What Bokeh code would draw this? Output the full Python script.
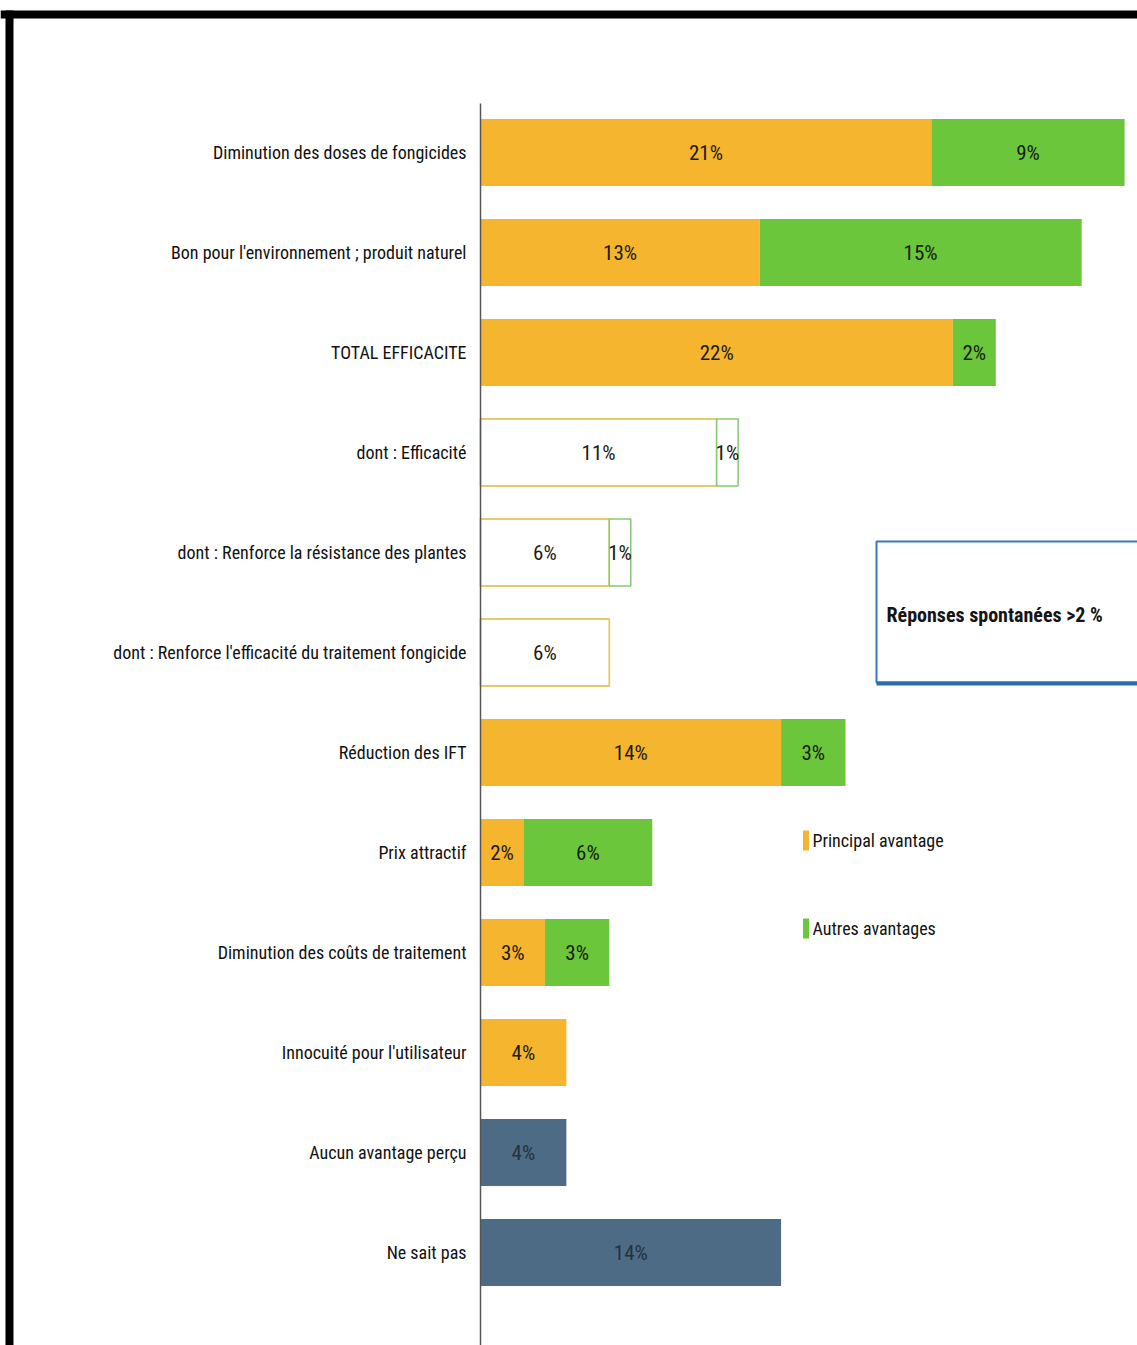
from bokeh.plotting import figure
from bokeh.models import Range1d
from bokeh.core.properties import value
from bokeh.embed import file_html
from bokeh.resources import INLINE

# ---------------- data ----------------
categories = [
    "Diminution des doses de fongicides",
    "Bon pour l'environnement ; produit naturel",
    "TOTAL EFFICACITE",
    "dont : Efficacité",
    "dont : Renforce la résistance des plantes",
    "dont : Renforce l'efficacité du traitement fongicide",
    "Réduction des IFT",
    "Prix attractif",
    "Diminution des coûts de traitement",
    "Innocuité pour l'utilisateur",
    "Aucun avantage perçu",
    "Ne sait pas",
]
principal = [21, 13, 22, 11, 6, 6, 14, 2, 3, 4, 0, 0]
autres = [9, 15, 2, 1, 1, 0, 3, 6, 3, 0, 0, 0]
sans_avantage = [0, 0, 0, 0, 0, 0, 0, 0, 0, 0, 4, 14]
is_detail = [False, False, False, True, True, True, False, False, False, False, False, False]
legend_labels = ["Principal avantage", "Autres avantages"]
box_title = "Réponses spontanées >2 %"

# ---------------- styles / layout ----------------
ORANGE = "#F5B52E"
GREEN = "#6CC63C"
SLATE = "#4E6B86"
ORANGE_LINE = "#E6CB6A"
GREEN_LINE = "#88C878"
BLUE_BOX = "#3A78BE"
FONT = value("Roboto Condensed")

FIG_W, FIG_H = 1137, 1345
X0_PX = 480.0          # pixel of x = 0 (axis line)
PX_PER_PCT = 21.47
ROW0_PX = 152.0        # pixel centre of first row
ROW_PX = 100.0
BAR_H = 0.67

def dx(px):
    return (px - X0_PX) / PX_PER_PCT

def dy(px):
    return (px - ROW0_PX) / ROW_PX

x_start, x_end = dx(0), dx(FIG_W)
y_top, y_bottom = dy(0), dy(FIG_H)

p = figure(width=FIG_W, height=FIG_H,
           x_range=Range1d(x_start, x_end),
           y_range=Range1d(y_bottom, y_top),
           x_axis_type=None, y_axis_type=None,
           min_border=0, toolbar_location=None, output_backend="svg",
           outline_line_color=None, background_fill_color="white",
           border_fill_color="white")
p.grid.visible = False

ys = list(range(len(categories)))

# ---------------- bars ----------------
def rows(cond):
    return [i for i in ys if cond(i)]

r_pf = rows(lambda i: principal[i] > 0 and not is_detail[i])
r_po = rows(lambda i: principal[i] > 0 and is_detail[i])
r_af = rows(lambda i: autres[i] > 0 and not is_detail[i])
r_ao = rows(lambda i: autres[i] > 0 and is_detail[i])
r_s = rows(lambda i: sans_avantage[i] > 0)

p.hbar(y=r_pf, left=0, right=[principal[i] for i in r_pf], height=BAR_H,
       fill_color=ORANGE, line_color=None)
p.hbar(y=r_po, left=0, right=[principal[i] for i in r_po], height=BAR_H,
       fill_color="white", line_color=ORANGE_LINE, line_width=1.8)
p.hbar(y=r_af, left=[principal[i] for i in r_af],
       right=[principal[i] + autres[i] for i in r_af], height=BAR_H,
       fill_color=GREEN, line_color=None)
p.hbar(y=r_ao, left=[principal[i] for i in r_ao],
       right=[principal[i] + autres[i] for i in r_ao], height=BAR_H,
       fill_color="white", line_color=GREEN_LINE, line_width=1.5)
p.hbar(y=r_s, left=0, right=[sans_avantage[i] for i in r_s], height=BAR_H,
       fill_color=SLATE, line_color=None)

# ---------------- value labels ----------------
lx, ly, lt, lc = [], [], [], []
for i in ys:
    if principal[i] > 0:
        lx.append(principal[i] / 2); ly.append(i); lt.append(f"{principal[i]}%"); lc.append("#1e1a12")
    if autres[i] > 0:
        lx.append(principal[i] + autres[i] / 2); ly.append(i); lt.append(f"{autres[i]}%"); lc.append("#17200f")
    if sans_avantage[i] > 0:
        lx.append(sans_avantage[i] / 2); ly.append(i); lt.append(f"{sans_avantage[i]}%"); lc.append("#26313d")
p.text(x=lx, y=ly, text=lt, text_color=lc, text_align="center",
       text_baseline="middle", text_font=FONT, text_font_size="21px")

# ---------------- category labels & axis line ----------------
p.text(x=[0] * len(ys), y=ys, text=categories, x_offset=-14,
       text_align="right", text_baseline="middle", text_font=FONT,
       text_font_size="18px", text_color="#111111")
p.segment(x0=[0], y0=[dy(103)], x1=[0], y1=[y_bottom], line_color="#555555", line_width=1.5)

# ---------------- legend ----------------
leg_y = [dy(840), dy(928)]
p.rect(x=[dx(805.5)] * 2, y=leg_y, width=6, height=20,
       width_units="screen", height_units="screen",
       fill_color=[ORANGE, GREEN], line_color=None)
p.text(x=[dx(812)] * 2, y=leg_y, text=legend_labels, text_align="left",
       text_baseline="middle", text_font=FONT, text_font_size="18px",
       text_color="#111111")

# ---------------- annotation box ----------------
p.quad(left=[dx(876)], right=[x_end + 2], top=[dy(541)], bottom=[dy(682)],
       fill_color="white", line_color=BLUE_BOX, line_width=2)
p.segment(x0=[dx(876)], y0=[dy(683)], x1=[x_end + 2], y1=[dy(683)],
          line_color="#2F69AE", line_width=4)
p.text(x=[dx(886)], y=[dy(614)], text=[box_title], text_align="left",
       text_baseline="middle", text_font=FONT, text_font_size="20px",
       text_font_style="bold", text_color="#151515")

# ---------------- frame border (top & left) ----------------
p.quad(left=[x_start], right=[x_end], top=[dy(10)], bottom=[dy(18)],
       fill_color="black", line_color=None)
p.quad(left=[dx(5)], right=[dx(13)], top=[dy(10)], bottom=[y_bottom],
       fill_color="black", line_color=None)

open("out.html", "w").write(file_html(p, INLINE))
